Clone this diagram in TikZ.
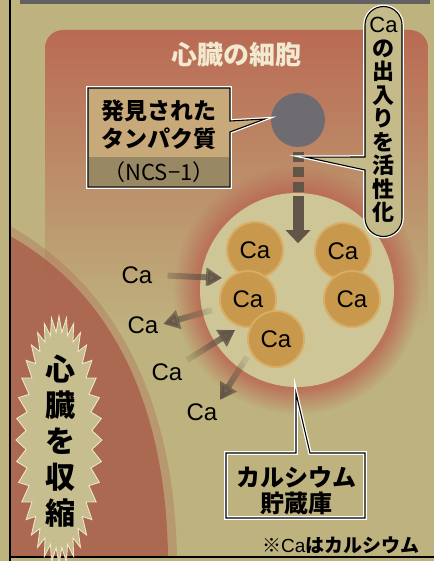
\documentclass[tikz,border=0pt]{standalone}
\usepackage{fontspec}
\newfontfamily\jp{Noto Sans CJK JP}
\newfontfamily\latin{Liberation Sans}
\usetikzlibrary{arrows.meta,calc,fadings,positioning}

\definecolor{paper}{RGB}{190,178,126}
\definecolor{cellred}{RGB}{186,106,84}
\definecolor{storefill}{RGB}{206,198,150}
\definecolor{cafill}{RGB}{200,152,76}
\definecolor{caring}{RGB}{216,174,102}
\definecolor{protein}{RGB}{110,108,112}
\definecolor{arrowbrown}{RGB}{98,84,70}
\definecolor{cream}{RGB}{242,234,208}
\definecolor{boxtan}{RGB}{200,170,122}
\definecolor{band}{RGB}{152,136,100}
\definecolor{pillfill}{RGB}{196,186,138}
\definecolor{burstfill}{RGB}{198,190,142}

\newcommand\jpfont[2]{\jp\bfseries\fontsize{#1}{#2}\selectfont}
\tikzfading[name=tailfade,left color=transparent!85,right color=transparent!0]

\begin{document}
\begin{tikzpicture}[x=1pt,y=-1pt,
    ca/.style={circle,minimum size=56pt,inner sep=0pt,fill=cafill,draw=caring,
      line width=2pt,font=\latin\fontsize{24}{24}\selectfont},
    freeca/.style={inner sep=1pt,font=\latin\fontsize{24}{24}\selectfont},
    caflow/.style={arrowbrown,line width=6pt,-{Triangle[width=19pt,length=16pt]},
      path fading=tailfade,fading angle=#1},
    callout/.style={draw=black,line width=1.1pt,line join=miter,
      preaction={draw=white,line width=3.6pt}},
    stem/.style={arrowbrown,line width=11pt}]
  \useasboundingbox (0,0) rectangle (434,561);
  \fill[paper] (0,0) rectangle (434,561);

  % cell area, halo round the store, contracting muscle
  \shade[top color=cellred,middle color=cellred!75!paper,bottom color=paper,
    rounded corners=18pt] (45,30) rectangle (428,330);
  \fill[cellred,opacity=0.85,path fading=circle with fuzzy edge 20 percent] (297,290) circle (124);
  \fill[cellred!92!black,opacity=0.3] (10,226) .. controls (116,286) and (174,400) .. (177,557) -- (10,557) -- cycle;
  \fill[cellred!92!black,opacity=0.85] (10,236) .. controls (110,292) and (166,402) .. (168,557) -- (10,557) -- cycle;

  % frame
  \fill[black!62] (20,0) rectangle (430,4);
  \draw[line width=1.6pt] (10,0) -- (10,561);
  \draw[line width=1.6pt] (10,557) -- (434,557);

  \node[font=\jpfont{26}{26},text=cream] (title) at (236,55) {心臓の細胞};

  % calcium store
  \node[circle,minimum size=194pt,inner sep=0pt,fill=storefill] (store) at (297,290) {};
  \node[ca] (c1) at (255,250) {Ca};
  \node[ca] (c2) at (248,299) {Ca};
  \node[ca] (c3) at (276,339) {Ca};
  \node[ca] (c4) at (343,251) {Ca};
  \node[ca] (c5) at (352,299) {Ca};

  % protein and its signal
  \node[circle,minimum size=54pt,inner sep=0pt,fill=protein] (protein) at (298,120) {};
  \coordinate (stemtop) at ($(protein.south)+(0,5)$);
  \coordinate (stemmid) at ($(stemtop)+(0,44)$);
  \draw[stem,dash pattern=on 10pt off 5pt] (stemtop) -- ($(stemmid)+(0,-2)$);
  \draw[stem,-{Triangle[width=24pt,length=13pt]}] (stemmid) -- ++(0,47);

  % calcium in and out
  \node[freeca] (cain1) at (137,275) {Ca};
  \node[freeca] (caout1) at (143,325) {Ca};
  \node[freeca] (cain2) at (167,372) {Ca};
  \node[freeca] (caout2) at (202,412) {Ca};
  \coordinate (tip1) at ($(c2)+(-26,-21)$);
  \coordinate (from1) at ($(c2)+(-36,11)$);
  \coordinate (tip2) at ($(c3)+(-41,-9)$);
  \coordinate (from2) at ($(c3)+(-29,18)$);
  \draw[caflow=-4,shorten <=14pt] (cain1.east) -- (tip1);
  \draw[caflow=194,shorten >=4pt] (from1) -- (caout1.east);
  \draw[caflow=34,shorten <=4pt] (cain2.north east) -- (tip2);
  \draw[caflow=230,shorten >=3pt] (from2) -- (caout2.north east);

  % callout: the protein
  \coordinate (proteintip) at ($(protein.west)+(-6,-1)$);
  \draw[callout,fill=boxtan] (88,88) -- (230,88) -- (230,121) -- (proteintip)
    -- (230,132) -- (230,187) -- (88,187) -- cycle;
  \fill[band] (89,157) rectangle (229,186);
  \node[font=\jpfont{23}{23}] (found) at (159,111) {発見された};
  \node[font=\jpfont{23}{23}] (ncsname) at (159,139) {タンパク質};
  \node[font=\jp\fontsize{22}{22}\selectfont] (ncs) at (159,172) {（NCS−1）};

  % callout: activation
  \coordinate (stemtip) at ($(stemtop)+(8,5)$);
  \draw[callout,fill=pillfill] (365,157) -- (stemtip) -- (365,170) -- (365,218)
    arc[start angle=180,end angle=0,radius=18.5] -- (402,25)
    arc[start angle=0,end angle=-180,radius=18.5] -- cycle;
  \node[anchor=north,align=center,inner sep=0pt,font=\jpfont{22}{23.5}] (activate) at (383.5,17)
    {{\latin\mdseries Ca}\\の\\出\\入\\り\\を\\活\\性\\化};

  % callout: the store
  \coordinate (storetip) at ($(store.south)+(-1,6)$);
  \draw[callout] (226,453) -- (296,453) -- (storetip) -- (310,453) -- (365,453)
    -- (365,518) -- (226,518) -- cycle;
  \node[font=\jpfont{24}{24}] (storename) at (296,477) {カルシウム};
  \node[font=\jpfont{24}{24}] (storename2) at (296,503) {貯蔵庫};

  % heart contracts
  \fill[burstfill] plot[domain=0:360,samples=73]
    ({59+(38+5*cos(36*\x))*cos(\x)},{440+(116+8*cos(36*\x))*sin(\x)});
  \draw[cream,line width=0.8pt,line join=miter] plot[domain=0:360,samples=73]
    ({59+(38+5*cos(36*\x))*cos(\x)},{440+(116+8*cos(36*\x))*sin(\x)});
  \node[align=center,font=\jpfont{30}{36}] (contract) at (60,441)
    {心\\臓\\を\\収\\縮};

  \node[anchor=east,font=\jpfont{19}{19}] (note) at (423,545) {※{\latin\mdseries Ca}はカルシウム};
\end{tikzpicture}
\end{document}
